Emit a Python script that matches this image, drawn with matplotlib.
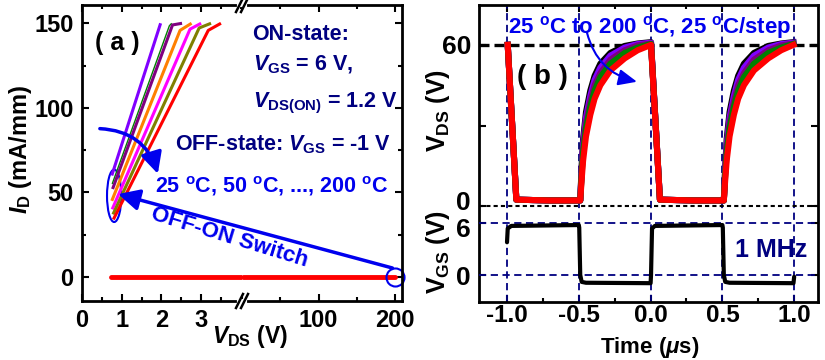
import matplotlib.pyplot as plt
from matplotlib.patches import Ellipse
from matplotlib.lines import Line2D
from matplotlib.ticker import MultipleLocator, FormatStrFormatter
from matplotlib.transforms import ScaledTranslation

plt.rcParams['font.family'] = ['Liberation Sans', 'DejaVu Sans']
plt.rcParams['font.weight'] = 'bold'
plt.rcParams['mathtext.fontset'] = 'custom'
plt.rcParams['mathtext.rm'] = 'Liberation Sans:bold'
plt.rcParams['mathtext.it'] = 'Liberation Sans:italic:bold'
plt.rcParams['mathtext.bf'] = 'Liberation Sans:bold'
plt.rcParams['axes.linewidth'] = 2
plt.rcParams['axes.unicode_minus'] = False

# ---- panel (a): ON-state output curves, 25 C ... 200 C ----
colors_a = ['#8000FF', '#008000', '#800080', '#FF8000', '#FF00FF', '#808000', '#FF0000']
vds_on = [[0.75, 1.98],
          [0.76, 2.20, 2.26],
          [0.77, 2.28, 2.52],
          [0.75, 2.47, 2.76],
          [0.76, 2.72, 3.00],
          [0.78, 2.95, 3.25],
          [0.79, 3.18, 3.50]]
id_on = [[60, 150],
         [55, 148.5, 150],
         [52, 149, 150],
         [45, 145.8, 150],
         [40, 146.5, 150],
         [37, 147.2, 150],
         [34, 145.8, 150]]
# OFF-state (V_GS = -1 V)
vds_off = [0.73, 200]
id_off = [0, 0]

# ---- panel (b): switching waveforms ----
t_ds = [-0.995, -0.935, -0.7,
        -0.49, -0.48, -0.47, -0.45, -0.42, -0.39, -0.35, -0.28, -0.18, -0.09, 0.003,
        0.065, 0.3,
        0.51, 0.52, 0.53, 0.55, 0.58, 0.61, 0.65, 0.72, 0.82, 0.91, 0.995]
vds_black = [60, 2.5, 2.2, 2.2, 15, 25, 35, 43, 48.5, 53, 57, 59.6, 60.5, 61,
             2.5, 2.2, 2.2, 15, 25, 35, 43, 48.5, 53, 57, 59.6, 60.5, 61]
vds_violet = [60, 2.5, 2.2, 2.2, 14, 23, 33, 41, 47, 51.5, 56, 59, 60.3, 60.8,
              2.5, 2.2, 2.2, 14, 23, 33, 41, 47, 51.5, 56, 59, 60.3, 60.8]
vds_purple = [60, 2.5, 2.2, 2.2, 13, 21.5, 31, 39, 45, 49.5, 54.5, 58, 59.8, 60.5,
              2.5, 2.2, 2.2, 13, 21.5, 31, 39, 45, 49.5, 54.5, 58, 59.8, 60.5]
vds_green = [60, 2.5, 2.2, 2.2, 12, 20, 29, 37, 43, 48, 53, 57, 59, 60.3,
             2.5, 2.2, 2.2, 12, 20, 29, 37, 43, 48, 53, 57, 59, 60.3]
vds_red = [60, 2.5, 2.2, 2.2, 10, 17, 26, 34, 40, 45, 50.5, 55, 58, 60,
           2.5, 2.2, 2.2, 10, 17, 26, 34, 40, 45, 50.5, 55, 58, 60]
t_gs = [-1.0, -0.995, -0.97, -0.5, -0.497, -0.49, -0.48, -0.45, 0.0, 0.003, 0.01, 0.03,
        0.5, 0.503, 0.51, 0.52, 0.55, 0.995, 1.0]
vgs = [3.8, 5.4, 5.7, 5.8, 5.5, 0.0, -0.8, -0.9, -0.95, 0.0, 5.4, 5.7,
       5.8, 5.5, 0.0, -0.8, -0.9, -0.95, -0.2]
t_edges = [-1.0, -0.5, 0.0, 0.5, 1.0]

navy = '#000080'
blue = '#0000EE'

W, H = 825, 360


def fx(px):
    return px / W


def fy(py):
    return 1 - py / H


fig = plt.figure(figsize=(8.25, 3.6), dpi=100)

# ---------- panel (a) with broken x axis ----------
ax_l = fig.add_axes([fx(82), fy(301), (242 - 82) / W, 296 / H])
ax_r = fig.add_axes([fx(242), fy(301), (402 - 242) / W, 296 / H], sharey=ax_l)

for v, i, c in zip(vds_on, id_on, colors_a):
    lw = 1.0 if c == '#008000' else 2.2
    ax_l.plot(v, i, color=c, lw=lw, solid_capstyle='butt')
for a in (ax_l, ax_r):
    a.plot(vds_off, id_off, color='#FF0000', lw=3.5, solid_capstyle='round')

ax_l.set_xlim(0, 4.03)
ax_r.set_xlim(0, 209)
ax_l.set_ylim(-14.2, 160.8)
ax_l.set_xticks([0, 1, 2, 3])
ax_l.xaxis.set_minor_locator(MultipleLocator(0.5))
ax_r.set_xticks([100, 200])
ax_r.xaxis.set_minor_locator(MultipleLocator(50))
ax_l.set_yticks([0, 50, 100, 150])
ax_l.yaxis.set_minor_locator(MultipleLocator(25))
ax_l.spines['right'].set_visible(False)
ax_r.spines['left'].set_visible(False)
ax_l.tick_params(which='both', direction='in', top=True, right=False, labelsize=17, width=1.5)
ax_r.tick_params(which='both', direction='in', top=True, right=True, left=False,
                 labelleft=False, labelsize=17, width=1.5)
for a in (ax_l, ax_r):
    a.tick_params(which='major', length=5, pad=6)
    a.tick_params(which='minor', length=3)

# break marks
for yb in (5, 301):
    fig.add_artist(Line2D([fx(239), fx(245)], [fy(yb), fy(yb)], color='white', lw=3,
                          transform=fig.transFigure))
    for x0 in (236, 241):
        fig.add_artist(Line2D([fx(x0), fx(x0 + 7)], [fy(yb + 7), fy(yb - 7)], color='black',
                              lw=1.8, transform=fig.transFigure))

# annotations (a)
ax_l.add_patch(Ellipse((0.81, 48), 0.36, 31, fill=False, ec=blue, lw=1.5))
ax_r.plot([200], [0], 'o', ms=13, mfc='none', mec=blue, mew=1.5, clip_on=False)
ax_r.annotate('', xy=(0.91, 49), xycoords=ax_l.transData, xytext=(196.5, 5.3),
              textcoords=ax_r.transData, annotation_clip=False,
              arrowprops=dict(arrowstyle='-|>,head_length=0.8,head_width=0.4',
                              color=blue, lw=2.5, mutation_scale=16, shrinkA=0, shrinkB=0))
ax_l.annotate('', xy=(1.91, 61), xytext=(0.45, 87.7), annotation_clip=False,
              arrowprops=dict(arrowstyle='-|>,head_length=0.8,head_width=0.4',
                              color=blue, lw=2.5, mutation_scale=16, shrinkA=0, shrinkB=0,
                              connectionstyle='arc3,rad=-0.35'))

fig.text(fx(117), fy(43), '( a )', fontsize=18, ha='center', va='center')
fig.text(fx(252), fy(40), 'ON-state:', fontsize=15.5, color=navy, ha='left', va='baseline')
fig.text(fx(253), fy(70), r'$V_{\mathrm{GS}}$ = 6 V,', fontsize=15.5, color=navy,
         ha='left', va='baseline')
fig.text(fx(253), fy(107), r'$V_{\mathrm{DS(ON)}}$ = 1.2 V', fontsize=15.5, color=navy,
         ha='left', va='baseline')
fig.text(fx(175), fy(150), r'OFF-state: $V_{\mathrm{GS}}$ = -1 V', fontsize=15.5, color=navy,
         ha='left', va='baseline')
fig.text(fx(155), fy(193), r'25 $^{\mathrm{o}}$C, 50 $^{\mathrm{o}}$C, ..., 200 $^{\mathrm{o}}$C',
         fontsize=15.5, color=blue, ha='left', va='baseline')
fig.text(fx(229), fy(238), 'OFF-ON Switch', fontsize=16, color=blue, ha='center',
         va='center', rotation=-17, rotation_mode='anchor')
fig.text(fx(20), fy(150), r'$I_{\mathrm{D}}$ (mA/mm)', fontsize=17, rotation=90,
         ha='center', va='center')
fig.text(fx(250), fy(337), r'$V_{\mathrm{DS}}$ (V)', fontsize=16.5, ha='center', va='center')

# ---------- panel (b) ----------
axb = fig.add_axes([fx(479.3), fy(301.7), (818.3 - 479.3) / W, 296.7 / H])
axg = fig.add_axes([fx(479.3), fy(301.7), (818.3 - 479.3) / W, 95 / H])
axg.patch.set_visible(False)
for s in axg.spines.values():
    s.set_visible(False)

for t in t_edges:
    axb.axvline(t, color=navy, lw=1.3, dashes=(4, 2.5))
axb.axhline(60, color='black', lw=2.4, dashes=(3, 1.5))
axb.axhline(0, color='black', lw=1.5, dashes=(2, 1.5))
for v, c, lw in [(vds_black, 'black', 4.4), (vds_violet, '#8000FF', 4.4),
                 (vds_purple, '#800080', 4.4), (vds_green, '#008000', 4.4),
                 (vds_red, '#FF0000', 4.4)]:
    axb.plot(t_ds, v, color=c, lw=lw, solid_joinstyle='round')

axg.axhline(6, color=navy, lw=1.3, dashes=(4, 2.5))
axg.axhline(0, color=navy, lw=1.3, dashes=(4, 2.5))
axg.plot(t_gs, vgs, color='black', lw=3, solid_capstyle='round')

for a in (axb, axg):
    a.set_xlim(-1.193, 1.168)
axb.set_ylim(-35.4, 74.8)
axg.set_ylim(-3.10, 7.93)

axb.set_xticks(t_edges)
axb.xaxis.set_minor_locator(MultipleLocator(0.25))
axb.xaxis.set_major_formatter(FormatStrFormatter('%.1f'))
axb.set_yticks([0, 30, 60])
axb.set_yticklabels(['0', '', '60'])
axb.tick_params(which='both', direction='in', top=True, right=True, labelsize=19, width=1.5)
axb.tick_params(which='major', length=5, pad=6)
axb.tick_params(which='minor', length=3)
axb.tick_params(axis='x', labelsize=17.5, pad=2)
axg.set_yticks([0, 6])
axg.tick_params(direction='in', left=True, right=True, bottom=False, labelbottom=False,
                labelsize=19, width=1.5, length=5, pad=6)

# nudge the crowded "0" (V_DS) and "6" (V_GS) labels apart
axb.get_yticklabels()[0].set_transform(
    axb.get_yticklabels()[0].get_transform() + ScaledTranslation(0, 4 / 72, fig.dpi_scale_trans))
axg.get_yticklabels()[1].set_transform(
    axg.get_yticklabels()[1].get_transform() + ScaledTranslation(0, -3 / 72, fig.dpi_scale_trans))

axb.annotate('', xy=(-0.095, 46.3), xytext=(-0.443, 64.5), annotation_clip=False,
             arrowprops=dict(arrowstyle='-|>,head_length=0.8,head_width=0.35',
                             color=blue, lw=1.5, mutation_scale=14, shrinkA=0, shrinkB=0,
                             connectionstyle='arc3,rad=0.3'))

fig.text(fx(508), fy(33), r'25 $^{\mathrm{o}}$C to 200 $^{\mathrm{o}}$C, 25 $^{\mathrm{o}}$C/step',
         fontsize=16, color=blue, ha='left', va='baseline')
fig.text(fx(542), fy(77), '( b )', fontsize=20, ha='center', va='center')
fig.text(fx(735), fy(250), '1 MHz', fontsize=18, color=navy, ha='left', va='center')
fig.text(fx(438), fy(110), r'V$_{\mathrm{DS}}$ (V)', fontsize=18, rotation=90,
         ha='center', va='center')
fig.text(fx(438), fy(252), r'V$_{\mathrm{GS}}$ (V)', fontsize=18, rotation=90,
         ha='center', va='center')
fig.text(fx(650), fy(352.5), r'Time ($\mu$s)', fontsize=16, ha='center', va='baseline')

fig.savefig('out.png', dpi=100)
